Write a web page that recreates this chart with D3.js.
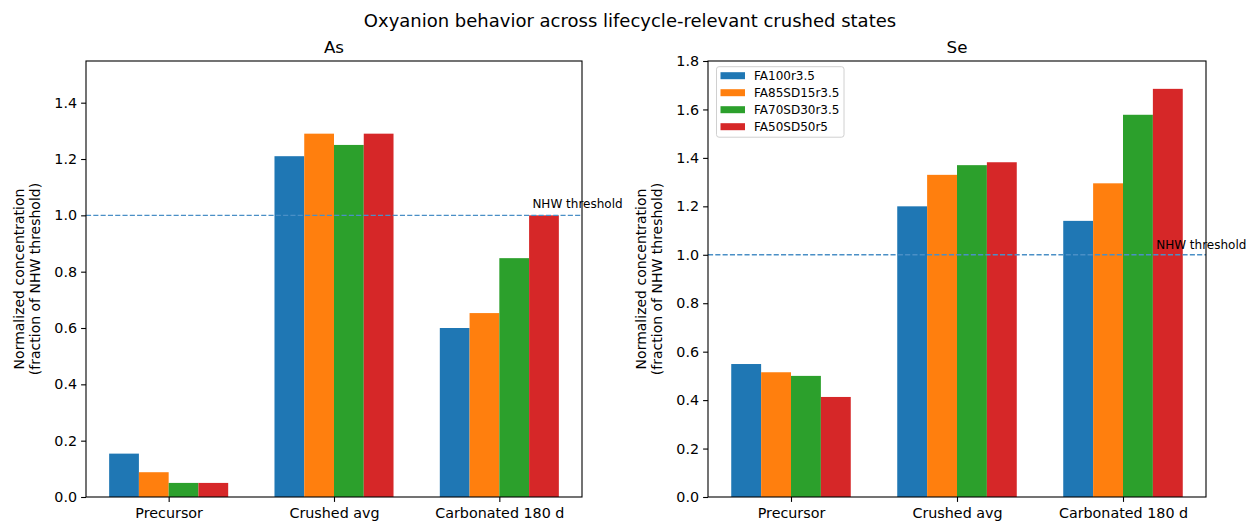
<!DOCTYPE html>
<html><head><meta charset="utf-8">
<script src="https://cdn.jsdelivr.net/npm/d3@7"></script>
<style>body{margin:0;background:#fff}svg{font-family:"DejaVu Sans",sans-serif}</style>
</head><body><svg id="c" width="1246" height="523"></svg>
<script>
const categories = ["Precursor", "Crushed avg", "Carbonated 180 d"];
const seriesNames = ["FA100r3.5", "FA85SD15r3.5", "FA70SD30r3.5", "FA50SD50r5"];
const colors = ["#1f77b4", "#ff7f0e", "#2ca02c", "#d62728"];
const asValues = [
  [0.154, 1.21, 0.60],
  [0.088, 1.29, 0.653],
  [0.05, 1.25, 0.848],
  [0.05, 1.29, 1.00]
];
const seValues = [
  [0.549, 1.20, 1.14],
  [0.515, 1.33, 1.295],
  [0.50, 1.37, 1.578],
  [0.413, 1.382, 1.685]
];
const asTicks = [0, 0.2, 0.4, 0.6, 0.8, 1.0, 1.2, 1.4];
const seTicks = [0, 0.2, 0.4, 0.6, 0.8, 1.0, 1.2, 1.4, 1.6, 1.8];
const threshold = 1.0;

const svg = d3.select("#c");
svg.append("text").attr("x", 630).attr("y", 27).attr("text-anchor", "middle")
  .style("font-size", "18px").text("Oxyanion behavior across lifecycle-relevant crushed states");

function panel(x0, x1, title, values, ymax, ticks, legend) {
  const y0 = 61, y1 = 497;
  const x = d3.scaleLinear().domain([-0.5, 2.5]).range([x0, x1]);
  const y = d3.scaleLinear().domain([0, ymax]).range([y1, y0]);
  const g = svg.append("g");
  const w = 0.18;
  values.forEach((vals, si) => {
    g.selectAll(null).data(vals).enter().append("rect")
      .attr("x", (d, i) => x(i + (si - 1.5) * w - w / 2))
      .attr("width", (d, i) => x(i + (si - 1.5) * w + w / 2) - x(i + (si - 1.5) * w - w / 2))
      .attr("y", d => y(d)).attr("height", d => y(0) - y(d))
      .attr("fill", colors[si]);
  });
  g.append("line").attr("x1", x0).attr("x2", x1).attr("y1", y(threshold)).attr("y2", y(threshold))
    .attr("stroke", "#4a8fc6").attr("stroke-width", 1.4).attr("stroke-dasharray", "5.1,2.2");
  g.append("text").attr("x", x(2.2)).attr("y", y(1.03) + 1).style("font-size", "12px").text("NHW threshold");

  const ya = g.append("g").attr("transform", `translate(${x0},0)`)
    .call(d3.axisLeft(y).tickValues(ticks).tickFormat(d3.format(".1f")).tickSize(4.9).tickPadding(4));
  const xa = g.append("g").attr("transform", `translate(0,${y1})`)
    .call(d3.axisBottom(x).tickValues([0, 1, 2]).tickFormat(i => categories[i]).tickSize(4.9).tickPadding(6));
  [ya, xa].forEach(a => {
    a.select(".domain").remove();
    a.selectAll("text").style("font-size", "14.3px").attr("fill", "#000").style("font-family", "DejaVu Sans");
    a.selectAll("line").attr("stroke", "#000").attr("stroke-width", 1.1);
  });
  g.append("rect").attr("x", x0).attr("y", y0).attr("width", x1 - x0).attr("height", y1 - y0)
    .attr("fill", "none").attr("stroke", "#000").attr("stroke-width", 1.1);
  g.append("text").attr("x", (x0 + x1) / 2).attr("y", 53).attr("text-anchor", "middle")
    .style("font-size", "16.7px").text(title);
  const lab = g.append("text").attr("transform", `translate(${x0 - 62},${(y0 + y1) / 2}) rotate(-90)`)
    .attr("text-anchor", "middle").style("font-size", "14px");
  lab.append("tspan").attr("x", 0).attr("dy", 0).text("Normalized concentration");
  lab.append("tspan").attr("x", 0).attr("dy", 15.8).text("(fraction of NHW threshold)");

  if (legend) {
    const lg = g.append("g").attr("transform", `translate(${x0 + 8.5},${y0 + 5.7})`);
    lg.append("rect").attr("width", 127.5).attr("height", 70.5).attr("rx", 2.5)
      .attr("fill", "#fff").attr("fill-opacity", 0.8).attr("stroke", "#d0d0d0").attr("stroke-width", 1);
    seriesNames.forEach((n, i) => {
      lg.append("rect").attr("x", 4).attr("y", 5.5 + i * 17).attr("width", 24.5).attr("height", 7)
        .attr("fill", colors[i]);
      lg.append("text").attr("x", 37.5).attr("y", 13.5 + i * 17).style("font-size", "12px").text(n);
    });
  }
}
panel(86, 582, "As", asValues, 1.548, asTicks, false);
panel(708, 1206, "Se", seValues, 1.8, seTicks, true);
</script></body></html>
